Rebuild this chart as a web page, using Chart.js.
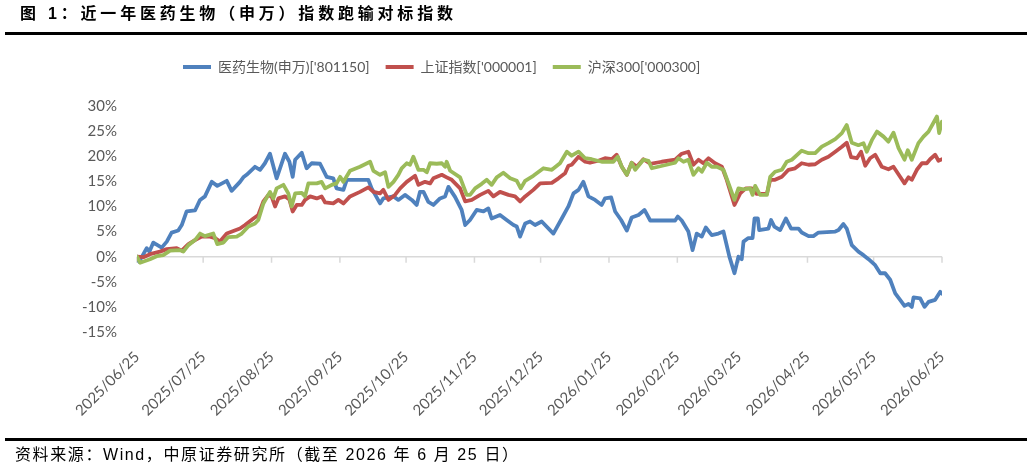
<!DOCTYPE html>
<html>
<head>
<meta charset="utf-8">
<script src="https://cdn.jsdelivr.net/npm/chart.js@4.4.0/dist/chart.umd.min.js"></script>
<style>
html,body{margin:0;padding:0;background:#fff;}
#wrap{position:relative;width:1032px;height:472px;overflow:hidden;background:#fff;}
#c{position:absolute;left:0;top:0;}
#title{position:absolute;left:20px;top:4px;font-weight:bold;font-size:16px;font-family:"Liberation Sans","Noto Sans CJK SC",sans-serif;letter-spacing:3.8px;color:#000;white-space:nowrap;line-height:20px;}
.rule{position:absolute;left:5px;width:1022px;height:3px;background:#000;}
#foot{position:absolute;left:15px;top:446px;font-size:16px;font-family:"Liberation Sans","Noto Sans CJK SC",sans-serif;letter-spacing:1.6px;color:#000;white-space:nowrap;line-height:18px;}
</style>
</head>
<body>
<div id="wrap">
<canvas id="c" width="1032" height="472"></canvas>
<div id="title">图 1：近一年医药生物（申万）指数跑输对标指数</div>
<div class="rule" style="top:32px"></div>
<div class="rule" style="top:438px"></div>
<div id="foot">资料来源：Wind，中原证券研究所（截至 2026 年 6 月 25 日）</div>
</div>
<script>
// Series names
const seriesNames = ["医药生物(申万)['801150]", "上证指数['000001]", "沪深300['000300]"];

// x tick positions: days since 2025/06/25, and their labels
const tickDays = [0, 30, 61, 92, 122, 153, 183, 214, 245, 273, 304, 334, 365];
const tickLabels = ['2025/06/25','2025/07/25','2025/08/25','2025/09/25','2025/10/25','2025/11/25','2025/12/25',
                    '2026/01/25','2026/02/25','2026/03/25','2026/04/25','2026/05/25','2026/06/25'];

// 医药生物(申万): days since start, cumulative return %
const pharmaDays = [0,1,4.4,5.6,7.4,11.2,13.5,15.7,18.7,20.3,
  22.5,26.3,28.6,30.8,33.9,36.4,40.7,42.9,46.7,48.2,
  49.7,53.5,55.8,58.0,60.3,63.3,67.1,69.1,70.6,71.7,
  74.7,76.9,79.2,83.0,86.0,89.0,90.5,93.6,95.1,104.9,
  106.4,110.2,111.7,116.3,118.5,121.5,124.6,126.8,128.3,129.9,
  132.1,134.4,137.4,139.7,141.2,144.2,147.2,148.8,151.0,154.0,
  157.1,159.3,160.8,164.6,167.6,170.7,172.2,173.7,176.0,178.2,
  180.5,183.5,188.8,192.6,195.6,197.9,200.2,202.4,204.7,207.7,
  210.7,212.2,215.0,216.8,219.5,222.1,224.3,227.4,230.1,232.7,
  244.0,245.2,247.0,250.0,251.9,253.8,256.1,257.9,260.6,263.6,
  265.9,268.6,270.9,272.7,274.2,275.0,277.2,279.1,280.0,281.5,
  282.1,286.3,287.5,289.0,291.6,294.2,296.6,299.9,301.4,304.5,
  306.7,309.0,316.6,318.1,320.3,321.8,324.1,327.1,329.4,331.7,
  334.7,337.0,339.2,341.5,343.8,346.0,348.0,349.8,351.3,352.1,
  355.1,357.1,358.9,361.9,364.2,365];
const pharmaVals = [0,-1.0,1.7,1.0,2.8,1.8,3.0,4.8,5.2,6.3,
  9.0,9.2,11.3,12.0,14.9,14.1,15.1,13.1,14.9,15.8,
  16.3,17.9,17.3,18.6,20.5,15.6,20.5,18.9,15.9,19.3,
  20.7,17.6,18.6,18.5,15.9,15.6,13.6,13.3,15.3,15.3,
  13.6,10.6,11.6,12.0,11.3,12.3,11.3,10.3,12.9,12.9,
  10.9,10.3,11.6,12.0,13.9,11.9,9.3,6.3,7.3,9.3,
  9.0,9.6,7.6,8.3,7.3,6.3,6.0,4.0,6.6,7.0,
  6.3,7.0,4.6,7.6,10.0,12.6,13.3,14.9,12.0,11.3,
  10.3,11.6,11.8,9.0,7.3,5.2,7.8,8.3,9.3,7.2,
  7.2,8.0,7.2,5.0,1.3,4.6,4.0,5.8,4.3,4.6,
  5.0,0,-3.3,0,-0.5,3.0,3.7,3.7,7.6,7.6,
  5.3,5.6,7.3,6.0,5.3,7.6,5.6,5.6,4.8,4.1,
  4.1,4.8,5.0,5.3,6.5,5.6,2.3,1.0,0.3,-0.5,
  -1.7,-3.3,-3.3,-4.6,-7.3,-8.6,-9.8,-9.4,-10.0,-8.1,
  -8.3,-10.0,-9.0,-8.6,-7.0,-7.4];

// 上证指数
const szDays = [0,2.9,5.9,10.4,13.5,18.0,20.3,23.3,26.3,29.3,
  33.1,35.4,37.6,40.7,43.7,46.7,49.0,52.8,55.0,57.3,
  59.6,61.1,62.6,64.1,67.1,69.1,70.6,72.4,74.7,76.2,
  78.5,81.5,83.7,85.3,89.0,91.3,93.6,96.6,101.1,104.9,
  107.2,110.2,111.7,114.0,117.0,119.3,122.3,126.1,127.6,130.6,
  132.9,134.4,138.2,140.4,142.7,146.5,148.8,151.8,155.6,159.3,
  161.6,164.6,168.4,171.4,173.7,176.0,179.7,182.8,188.1,191.1,
  194.1,195.6,197.1,200.2,203.2,205.4,209.2,212.2,215.3,217.5,
  219.8,222.1,224.3,226.6,229.6,232.7,237.9,244.0,247.0,250.0,
  252.3,254.6,256.8,259.1,262.1,265.2,267.4,270.9,273.5,276.0,
  278.8,281.0,285.6,287.1,289.3,292.4,295.4,298.4,301.4,304.5,
  307.5,310.5,313.5,316.6,319.6,321.8,323.8,326.4,328.3,330.2,
  332.4,334.7,337.7,340.7,343.0,346.0,348.0,349.8,351.3,353.6,
  355.9,358.1,359.6,361.9,363.4,365];
const szVals = [0,-0.1,0.5,1.0,1.5,1.7,1.2,2.5,3.3,4.0,
  4.0,3.7,3.0,4.6,5.1,5.6,6.3,7.6,8.3,11.0,
  12.3,11.9,10.0,11.6,12.0,11.4,9.0,10.3,10.3,11.3,
  12.0,11.6,12.0,10.8,10.6,11.3,10.6,12.0,12.9,13.8,
  12.9,12.6,13.3,11.3,12.3,13.6,14.9,16.1,14.3,14.9,
  14.6,15.6,16.3,15.8,15.3,13.6,11.0,11.3,12.3,13.1,
  12.0,12.9,12.3,12.0,11.0,12.0,13.3,14.6,14.7,15.6,
  16.6,18.1,18.3,19.9,18.9,18.7,19.1,19.6,19.4,20.3,
  17.9,16.3,18.7,17.9,19.4,18.5,18.9,19.3,20.5,20.9,
  18.3,19.3,18.6,19.6,18.6,17.9,15.3,10.3,12.6,13.6,
  13.6,12.5,12.5,15.3,15.3,15.9,17.3,17.6,18.6,18.3,
  18.4,19.3,19.9,20.9,21.9,22.7,19.8,19.6,20.9,18.1,
  19.6,20.3,17.9,17.4,17.9,15.9,14.6,15.8,15.3,17.3,
  18.6,18.6,19.4,20.3,19.1,19.4];

// 沪深300
const hsDays = [0,1.4,5.9,8.9,11.9,15.0,19.5,21.0,23.3,26.3,
  28.6,30.8,34.6,36.4,39.2,41.4,45.2,47.5,50.5,53.5,
  55.0,57.3,60.3,61.8,63.3,66.4,68.6,70.1,71.7,74.7,
  76.2,77.7,81.5,83.7,85.3,88.3,90.5,92.1,93.6,96.6,
  101.1,105.7,107.2,110.2,112.5,114.0,116.3,118.5,120.0,122.3,
  123.8,125.3,127.6,129.9,131.4,132.9,135.9,138.2,139.7,140.4,
  142.0,146.5,149.5,151.0,153.3,156.3,158.6,160.8,163.1,166.1,
  169.2,172.2,174.0,176.0,179.7,184.3,188.1,191.8,194.9,197.1,
  200.2,203.2,206.2,210.7,216.0,218.0,219.8,222.1,224.3,225.9,
  229.6,231.9,233.4,244.0,245.5,247.8,250.0,252.3,254.6,256.1,
  258.4,260.6,262.9,265.9,268.2,270.9,272.7,275.0,278.0,279.1,
  280.3,282.5,285.6,287.1,289.3,292.4,294.6,296.9,301.4,304.5,
  307.5,310.5,313.5,316.6,319.6,321.8,324.1,327.1,329.4,330.9,
  333.2,335.5,338.5,340.7,343.0,345.3,348.0,349.5,351.3,354.3,
  356.6,358.9,362.7,363.7,365];
const hsVals = [0,-1.2,-0.5,0.1,0.3,1.2,1.3,1.0,2.3,3.3,
  4.6,4.1,4.6,2.5,2.8,3.9,4.0,4.6,6.0,6.6,
  7.3,10.6,12.9,11.6,13.6,14.3,12.6,10.0,12.6,12.7,
  12.0,14.6,14.6,14.9,13.6,14.3,14.6,15.9,14.9,17.1,
  17.9,18.9,17.1,16.3,16.8,13.9,14.9,16.3,17.6,18.6,
  18.3,19.9,17.3,17.3,16.8,18.6,18.5,18.6,17.9,18.9,
  17.1,15.8,12.3,12.3,13.6,14.5,15.3,14.3,15.8,16.7,
  15.6,15.1,13.6,15.1,16.1,17.6,17.3,18.6,20.9,20.1,
  20.9,19.6,19.4,18.9,18.9,19.9,17.9,16.3,18.7,17.3,
  19.3,19.1,17.6,18.7,19.6,18.9,19.3,16.3,17.6,16.9,
  18.7,17.9,17.9,17.3,14.6,11.3,13.6,13.4,13.6,12.3,
  14.1,12.3,12.3,15.9,16.9,17.3,18.9,19.3,21.1,20.6,
  20.6,21.9,22.6,23.4,24.6,26.2,22.7,22.2,22.6,20.9,
  23.2,24.9,23.9,22.9,24.7,21.6,19.3,21.2,19.3,22.6,
  23.9,24.9,27.9,24.6,26.9];

const colors = ['#4F81BD', '#C0504D', '#9BBB59'];

const toXY = (days, vals) => days.map((d, i) => ({x: d, y: vals[i]}));

Chart.defaults.font.family = "Lato, 'Noto Sans CJK SC', sans-serif";
Chart.defaults.color = '#595959';

const zeroAxisPlugin = {
  id: 'zeroAxis',
  afterLayout(chart) {
    const lg = chart.legend;
    if (lg) { lg.left = 167; lg.top -= 22; lg.bottom -= 22; }
  },
  beforeDatasetsDraw(chart) {
    const {ctx, chartArea, scales: {x, y}} = chart;
    const y0 = y.getPixelForValue(0);
    ctx.save();
    ctx.strokeStyle = '#D9D9D9';
    ctx.lineWidth = 1.5;
    ctx.beginPath();
    ctx.moveTo(chartArea.left, y0);
    ctx.lineTo(chartArea.right, y0);
    x.ticks.forEach(t => {
      const px = x.getPixelForValue(t.value);
      ctx.moveTo(px, y0);
      ctx.lineTo(px, y0 + 6);
    });
    ctx.stroke();
    ctx.restore();
  }
};

const mk = (i, days, vals, order) => ({
  label: seriesNames[i],
  data: toXY(days, vals),
  borderColor: colors[i],
  backgroundColor: colors[i],
  borderWidth: 3.8,
  pointRadius: 0,
  tension: 0,
  borderJoinStyle: 'round',
  borderCapStyle: 'round',
  order: order
});

new Chart(document.getElementById('c'), {
  type: 'line',
  data: {
    datasets: [
      mk(0, pharmaDays, pharmaVals, 3),
      mk(1, szDays, szVals, 2),
      mk(2, hsDays, hsVals, 1)
    ]
  },
  plugins: [zeroAxisPlugin],
  options: {
    responsive: false,
    animation: false,
    events: [],
    layout: {padding: {top: 66, left: 0, right: 90, bottom: 0}},
    plugins: {
      tooltip: {enabled: false},
      legend: {
        position: 'top',
        align: 'start',
        labels: {
          boxWidth: 28,
          boxHeight: 4,
          padding: 16,
          color: '#595959',
          font: {size: 14},
          sort: (a, b) => a.datasetIndex - b.datasetIndex,
          generateLabels: (chart) => {
            const items = Chart.defaults.plugins.legend.labels.generateLabels(chart);
            return items.map(it => Object.assign(it, {
              fillStyle: colors[it.datasetIndex],
              strokeStyle: colors[it.datasetIndex],
              lineWidth: 0
            }));
          }
        }
      }
    },
    scales: {
      x: {
        type: 'linear',
        min: tickDays[0],
        max: tickDays[tickDays.length - 1],
        grid: {display: false, drawTicks: false},
        border: {display: false},
        afterBuildTicks: (s) => { s.ticks = tickDays.map(v => ({value: v})); },
        afterFit: (s) => { s.height = 140; },
        ticks: {
          autoSkip: false,
          minRotation: 45,
          maxRotation: 45,
          padding: 16,
          color: '#595959',
          font: {size: 15},
          callback: (v) => tickLabels[tickDays.indexOf(v)]
        }
      },
      y: {
        min: -15,
        max: 30,
        grid: {display: false, drawTicks: false},
        border: {display: false},
        afterFit: (s) => { s.width = 137; },
        ticks: {
          stepSize: 5,
          padding: 20,
          color: '#595959',
          font: {size: 15},
          callback: (v) => v + '%'
        }
      }
    }
  }
});
</script>
</body>
</html>
